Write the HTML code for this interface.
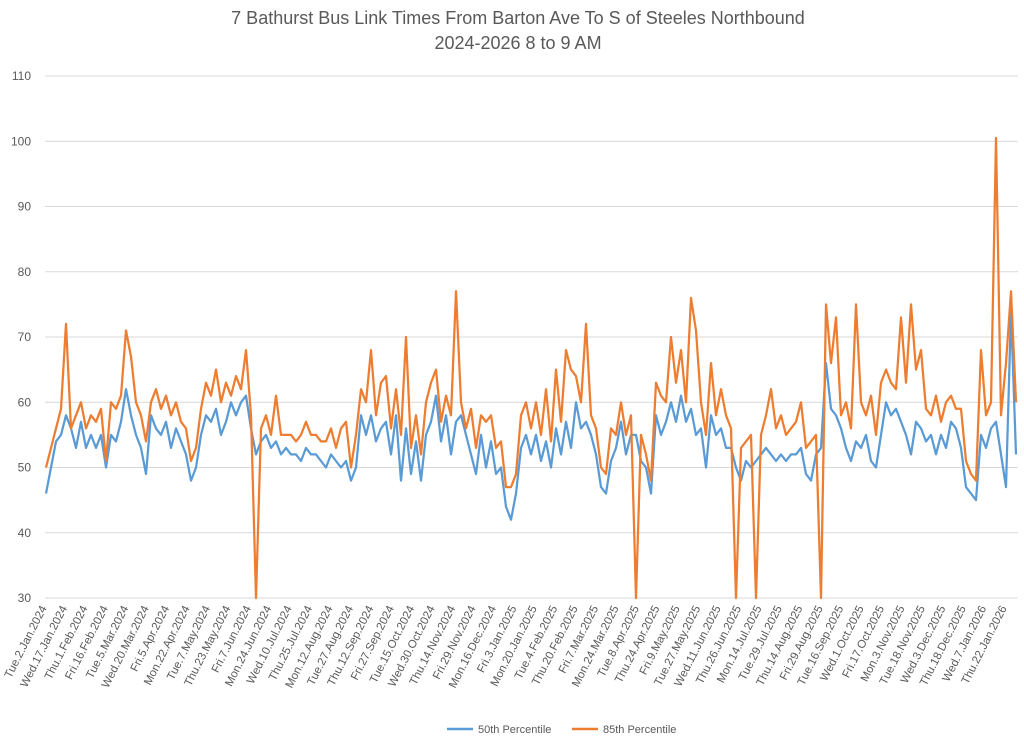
<!DOCTYPE html>
<html><head><meta charset="utf-8">
<style>
body{margin:0;background:#fff;}
svg{display:block;font-family:"Liberation Sans",sans-serif;}
</style></head>
<body>
<svg id="chart" width="1024" height="742" viewBox="0 0 1024 742">
<text x="518" y="24" text-anchor="middle" font-size="18" fill="#595959">7 Bathurst Bus Link Times From Barton Ave To S of Steeles Northbound</text>
<text x="518" y="49" text-anchor="middle" font-size="18" fill="#595959">2024-2026 8 to 9 AM</text>
<g id="grid"></g>
<g id="yaxis"></g>
<g id="xaxis"></g>
<g id="series"></g>
<g>
<line x1="447" y1="729" x2="473" y2="729" stroke="#5B9BD5" stroke-width="2.5"/>
<text x="478" y="733" font-size="11" fill="#595959">50th Percentile</text>
<line x1="572" y1="729" x2="598" y2="729" stroke="#ED7D31" stroke-width="2.5"/>
<text x="603" y="733" font-size="11" fill="#595959">85th Percentile</text>
</g>
</svg>
<script>
const yTicks=[30,40,50,60,70,80,90,100,110];
const xLabels=["Tue.2.Jan.2024","Wed.17.Jan.2024","Thu.1.Feb.2024","Fri.16.Feb.2024","Tue.5.Mar.2024","Wed.20.Mar.2024","Fri.5.Apr.2024","Mon.22.Apr.2024","Tue.7.May.2024","Thu.23.May.2024","Fri.7.Jun.2024","Mon.24.Jun.2024","Wed.10.Jul.2024","Thu.25.Jul.2024","Mon.12.Aug.2024","Tue.27.Aug.2024","Thu.12.Sep.2024","Fri.27.Sep.2024","Tue.15.Oct.2024","Wed.30.Oct.2024","Thu.14.Nov.2024","Fri.29.Nov.2024","Mon.16.Dec.2024","Fri.3.Jan.2025","Mon.20.Jan.2025","Tue.4.Feb.2025","Thu.20.Feb.2025","Fri.7.Mar.2025","Mon.24.Mar.2025","Tue.8.Apr.2025","Thu.24.Apr.2025","Fri.9.May.2025","Tue.27.May.2025","Wed.11.Jun.2025","Thu.26.Jun.2025","Mon.14.Jul.2025","Tue.29.Jul.2025","Thu.14.Aug.2025","Fri.29.Aug.2025","Tue.16.Sep.2025","Wed.1.Oct.2025","Fri.17.Oct.2025","Mon.3.Nov.2025","Tue.18.Nov.2025","Wed.3.Dec.2025","Thu.18.Dec.2025","Wed.7.Jan.2026","Thu.22.Jan.2026"];
const p50=[46,50,54,55,58,56,53,57,53,55,53,55,50,55,54,57,62,58,55,53,49,58,56,55,57,53,56,54,52,48,50,55,58,57,59,55,57,60,58,60,61,56,52,54,55,53,54,52,53,
52,52,51,53,52,52,51,50,52,51,50,51,48,50,58,55,58,54,56,57,52,58,48,56,49,54,48,55,57,61,54,58,52,57,58,55,52,49,55,50,54,49,50,44,42,46,53,55,
52,55,51,54,50,56,52,57,53,60,56,57,55,52,47,46,51,53,57,52,55,55,51,50,46,58,55,57,60,57,61,57,59,55,56,50,58,55,56,53,53,50,48,51,50,51,52,
53,52,51,52,51,52,52,53,49,48,52,53,66,59,58,56,53,51,54,53,55,51,50,55,60,58,59,57,55,52,57,56,54,55,52,55,53,57,56,53,47,46,45,55,53,56,57,52,47,74,52];
const p85=[50,53,56,59,72,56,58,60,56,58,57,59,51,60,59,61,71,67,60,58,54,60,62,59,61,58,60,57,56,51,53,59,63,61,65,60,63,61,64,62,68,58,30,56,58,55,61,55,55,
55,54,55,57,55,55,54,54,56,53,56,57,50,55,62,60,68,58,63,64,56,62,55,70,53,58,52,60,63,65,57,61,58,77,60,56,59,53,58,57,58,53,54,47,47,49,58,60,
56,60,55,62,54,65,57,68,65,64,60,72,58,56,50,49,56,55,60,55,58,30,55,52,48,63,61,60,70,63,68,60,76,71,60,55,66,58,62,58,56,30,53,54,55,30,55,
58,62,56,58,55,56,57,60,53,54,55,30,75,66,73,58,60,56,75,60,58,61,55,63,65,63,62,73,63,75,65,68,59,58,61,57,60,61,59,59,51,49,48,68,58,60,100.5,58,66,77,60];

const NS='http://www.w3.org/2000/svg';
const plotL=45,plotR=1018,plotT=76,plotB=598;
const yMin=30,yMax=110;
function yScale(v){return plotB-(v-yMin)/(yMax-yMin)*(plotB-plotT);}
function xScale(i,n){return 46+i*(1016-46)/(n-1);}
function labelX(k){return 47+k*(1007-47)/(xLabels.length-1);}
function mk(tag,attrs,parent){const e=document.createElementNS(NS,tag);for(const k in attrs)e.setAttribute(k,attrs[k]);parent.appendChild(e);return e;}

const grid=document.getElementById('grid'),ya=document.getElementById('yaxis'),xa=document.getElementById('xaxis'),ser=document.getElementById('series');
yTicks.forEach(t=>{
  const y=yScale(t);
  const l=mk('line',{x1:plotL,x2:plotR,y1:y,y2:y,stroke:'#d9d9d9','stroke-width':1},grid);
  
  
  const tx=mk('text',{x:31,y:y+4,'text-anchor':'end','font-size':12,fill:'#595959'},ya);
  tx.textContent=t;
  
  
});
xLabels.forEach((s,k)=>{
  const x=labelX(k);
  const tx=mk('text',{x:x,y:608,'text-anchor':'end','font-size':11.5,fill:'#595959',transform:'rotate(-63 '+x+' 608)'},xa);
  tx.textContent=s;
  
  
});
function drawLine(arr,color,name){
  const d=arr.map((v,i)=>(i?'L':'M')+xScale(i,arr.length).toFixed(1)+' '+yScale(v).toFixed(1)).join(' ');
  const p=mk('path',{d:d,fill:'none',stroke:color,'stroke-width':2.25,'stroke-linejoin':'round'},ser);
  
  
}
drawLine(p50,'#5B9BD5','series-50th-percentile');
drawLine(p85,'#ED7D31','series-85th-percentile');
</script>
</body></html>
